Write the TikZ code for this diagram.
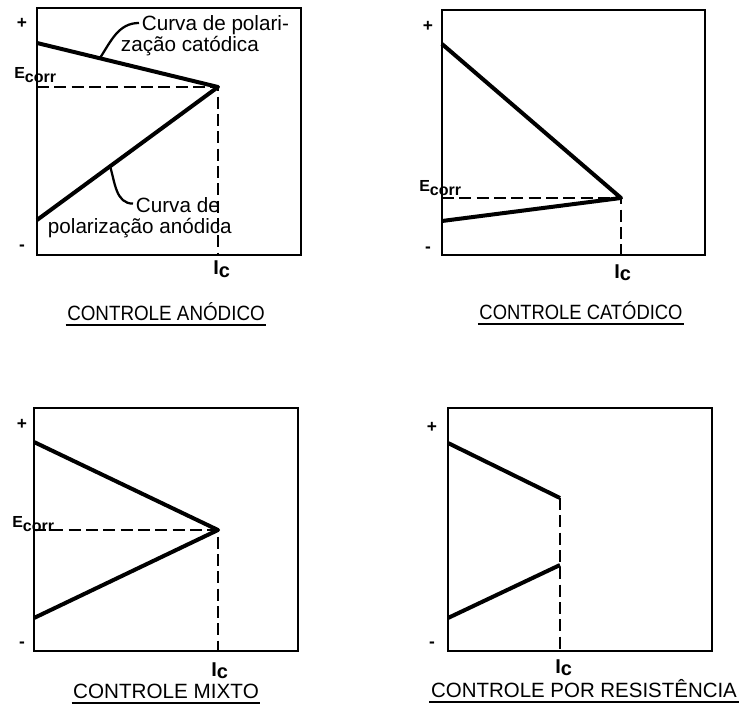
\documentclass[tikz,border=0pt]{standalone}
\usepackage{fontspec}
\setmainfont{Liberation Sans}
\usepackage{graphicx}

\begin{document}
\begin{tikzpicture}[x=0.75pt, y=-0.75pt]

  \useasboundingbox (0,0) rectangle (742,709);

  % Estilos: caixas, curvas, linhas tracejadas e textos
  \tikzset{
    caixa/.style={line width=2.2pt},
    curva/.style={line width=3pt, line join=round},
    tracejado/.style={line width=1.9pt, dash pattern=on 9pt off 4pt},
    guia/.style={line width=1.7pt},
    sublinhado/.style={line width=1.5pt},
    sinal/.style={font=\bfseries\fontsize{13}{13}\selectfont, inner sep=0pt},
    ecorr/.style={font=\bfseries\fontsize{12}{12}\selectfont, inner sep=0pt, anchor=base west},
    ic/.style={font=\bfseries\fontsize{15}{15}\selectfont, inner sep=0pt, anchor=base west},
    texto/.style={font=\fontsize{15.5}{15.5}\selectfont, inner xsep=2pt, inner ysep=0pt, anchor=base west},
    titulo/.style={font=\fontsize{15.5}{15.5}\selectfont, inner xsep=1pt, inner ysep=3.5pt, anchor=base}
  }

  % Sinais + e - ao lado de cada caixa
  \foreach \n/\x/\ya/\yb in {A/22/23/248, B/428/26/250, C/22/424/645, D/432/427/645} {
    \node[sinal] (mais\n) at (\x,\ya) {+};
    \node[sinal] (menos\n) at (\x,\yb) {-};
  }

  % --- Controle anodico ---
  \draw[caixa] (37,8) rectangle (301,255);
  \coordinate (cA) at (37,43);
  \coordinate (aA) at (37,220);
  \coordinate (pA) at (218,87);
  \coordinate (eA) at (37,87);
  \coordinate (iA) at (218,255);
  \draw[tracejado] (eA) -- (pA) -- (iA);
  \draw[curva] (cA) -- (pA) -- (aA);
  \node[ecorr] (EcA) at (14,79) {E\raisebox{-3pt}{corr}};
  \node[ic] (IcA) at (213,275) {I\raisebox{-2pt}{c}};
  % rotulos das curvas com linhas de chamada
  \node[texto] (labC1) at (139,31) {Curva de polari-};
  \node[texto] (labC2) at (118,52) {zação catódica};
  \node[texto] (labA1) at (133,213) {Curva de};
  \node[texto] (labA2) at (45,234) {polarização anódica};
  \coordinate (gC) at (100,58);
  \coordinate (gA) at (110,166);
  \draw[guia] (gC) to[out=57, in=180] ([yshift=2pt]labC1.west);
  \draw[guia] (gA) to[out=-73, in=180] ([yshift=1.5pt]labA1.west);
  \node[titulo] (legA) at (166,320) {\scalebox{0.91}[1]{CONTROLE ANÓDICO}};
  \draw[sublinhado] (legA.south west) -- (legA.south east);

  % --- Controle catodico ---
  \draw[caixa] (442,10) rectangle (705,255);
  \coordinate (cB) at (442,44);
  \coordinate (aB) at (442,221);
  \coordinate (pB) at (621,198);
  \coordinate (eB) at (442,198);
  \coordinate (iB) at (621,255);
  \draw[tracejado] (eB) -- (pB) -- (iB);
  \draw[curva] (cB) -- (pB) -- (aB);
  \node[ecorr] (EcB) at (419,192) {E\raisebox{-3pt}{corr}};
  \node[ic] (IcB) at (614,278) {I\raisebox{-2pt}{c}};
  \node[titulo] (legB) at (581,319) {\scalebox{0.89}[1]{CONTROLE CATÓDICO}};
  \draw[sublinhado] (legB.south west) -- (legB.south east);

  % --- Controle mixto ---
  \draw[caixa] (34,408) rectangle (298,651);
  \coordinate (cC) at (34,442);
  \coordinate (aC) at (34,618);
  \coordinate (pC) at (218,530);
  \coordinate (eC) at (34,530);
  \coordinate (iC) at (218,651);
  \draw[tracejado] (eC) -- (pC) -- (iC);
  \draw[curva] (cC) -- (pC) -- (aC);
  \node[ecorr] (EcC) at (12,527) {E\raisebox{-3pt}{corr}};
  \node[ic] (IcC) at (211,676) {I\raisebox{-2pt}{c}};
  \node[titulo] (legC) at (166,698) {CONTROLE MIXTO};
  \draw[sublinhado] (legC.south west) -- (legC.south east);

  % --- Controle por resistencia ---
  \draw[caixa] (448,408) rectangle (712,651);
  \coordinate (cD) at (448,443);
  \coordinate (sD) at (560,498);
  \coordinate (aD) at (448,618);
  \coordinate (tD) at (560,565);
  \coordinate (iD) at (560,651);
  \draw[tracejado] (sD) -- (iD);
  \draw[curva] (cD) -- (sD);
  \draw[curva] (aD) -- (tD);
  \node[ic] (IcD) at (555,673) {I\raisebox{-2pt}{c}};
  \node[titulo] (legD) at (584,697) {\scalebox{0.99}[1]{CONTROLE POR RESISTÊNCIA}};
  \draw[sublinhado] (legD.south west) -- (legD.south east);

\end{tikzpicture}
\end{document}
